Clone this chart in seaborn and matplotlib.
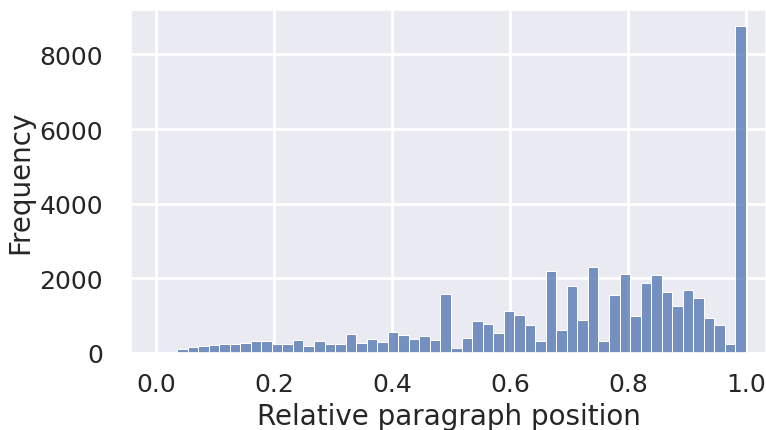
import numpy as np
import pandas as pd
import matplotlib.pyplot as plt
import seaborn as sns

# Counts per bin (56 equal bins over 0..1)
counts = [
    15, 40, 115, 170, 189, 224, 251, 251, 278, 310,
    310, 247, 247, 350, 189, 310, 229, 251, 500, 255,
    385, 296, 557, 494, 377, 467, 359, 1590, 126, 413,
    866, 790, 547, 1113, 1016, 746, 315, 2191, 628, 1798,
    871, 2310, 315, 1545, 2121, 978, 1879, 2084, 1625, 1267,
    1698, 1464, 943, 763, 251, 8760,
]
n_bins = len(counts)
edges = np.linspace(0, 1, n_bins + 1)
centers = (edges[:-1] + edges[1:]) / 2

df = pd.DataFrame({"position": centers, "count": counts})

sns.set_theme(style="darkgrid", font_scale=1.5,
              rc={"grid.linewidth": 2.0,
                  "xtick.labelsize": 18, "ytick.labelsize": 18,
                  "axes.labelsize": 20,
                  "ytick.major.pad": 14, "xtick.major.pad": 8})

fig = plt.figure(figsize=(7.66, 4.31), dpi=100)
ax = fig.add_axes([131 / 766, 1 - 354 / 431, 1 - 131 / 766, (354 - 10.7) / 431])
sns.histplot(data=df, x="position", weights="count", bins=n_bins,
             binrange=(0, 1), ax=ax)
ax.set_xlim(-0.0424, 1.034)
ax.set_xlabel("Relative paragraph position", labelpad=4)
ax.set_ylabel("Frequency", labelpad=4)
ax.set_xticks([0.0, 0.2, 0.4, 0.6, 0.8, 1.0])
ax.set_yticks([0, 2000, 4000, 6000, 8000])
plt.savefig("out.png")
plt.close()
